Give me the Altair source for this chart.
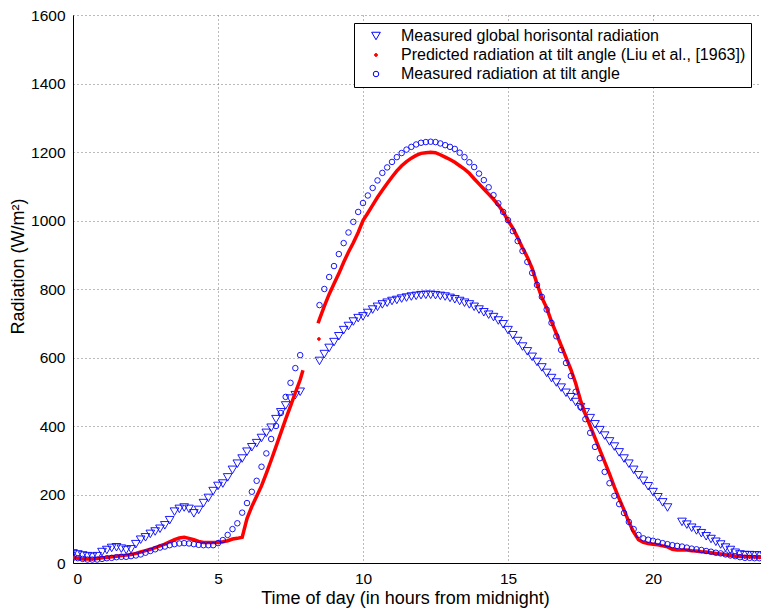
import altair as alt
import pandas as pd

G_LABEL = "Measured global horisontal radiation"
P_LABEL = "Predicted radiation at tilt angle (Liu et al., [1963])"
T_LABEL = "Measured radiation at tilt angle"
LEGEND_ORDER = [G_LABEL, P_LABEL, T_LABEL]
# scale order follows marker size; "_spare" is an unused slot that spaces the sizes
SCALE_ORDER = [P_LABEL, T_LABEL, "_spare", G_LABEL]

# 10-minute sampling grid (hours from midnight)
grid_hours = [k / 6 for k in range(144)]

# Measured global horizontal radiation (W/m2), one row per hour
glob_vals = [
    28, 25, 22, 20, 18, 20,
    32, 38, 44, 46, 42, 38,
    40, 55, 68, 75, 85, 92,
    100, 110, 125, 150, 158, 162,
    158, 145, 155, 175, 190, 210,
    225, 232, 250, 272, 290, 305,
    325, 338, 350, 365, 380, 395,
    420, 440, 460, 480, 490, 500,
    None, None, None, 590, 610, 628,
    645, 662, 680, 692, 705, 715,
    720, 730, 740, 748, 755, 760,
    765, 768, 772, 775, 778, 780,
    782, 783, 783, 782, 780, 778,
    774, 770, 765, 760, 755, 748,
    740, 732, 725, 718, 708, 697,
    680, 665, 648, 632, 618, 602,
    587, 571, 555, 540, 527, 512,
    497, 484, 470, 455, 440, 423,
    405, 388, 372, 355, 340, 323,
    305, 290, 272, 256, 240, 224,
    207, 192, 177, 162, None, None,
    120, 112, 103, 95, 87, 78,
    70, 62, 54, 45, 38, 30,
    25, 23, 23, 22, 22, 22,
]

# Measured radiation at tilt angle (W/m2)
tilt_vals = [
    15, 14, 12, 10, 10, 10,
    12, 14, 15, 17, 18, 18,
    20, 22, 25, 30, 35, 40,
    45, 48, 52, 55, 57, 58,
    57, 55, 53, 52, 52, 52,
    58, 67, 82, 99, 116, 147,
    175, 208, 240, 281, 320, 362,
    400, 438, 485, 526, 569, 607,
    None, None, None, 753, 800, 835,
    867, 902, 934, 965, 996, 1025,
    1051, 1073, 1095, 1117, 1139, 1155,
    1171, 1185, 1197, 1207, 1215, 1222,
    1227, 1229, 1230, 1229, 1225, 1220,
    1215, 1209, 1198, 1185, 1170, 1156,
    1137, 1118, 1097, 1074, 1050, 1025,
    1001, 969, 940, 911, 879, 847,
    812, 777, 740, 701, 662, 622,
    584, 546, 500, 455, 420, 380,
    339, 306, 266, 233, 196, 172,
    146, 120, 99, 82, 72, 68,
    65, 62, 58, 55, 52, 50,
    48, 45, 42, 40, 38, 35,
    33, 30, 28, 25, 22, 20,
    17, 15, 15, 14, 14, 14,
]

# Predicted radiation at tilt angle: morning segment (0 .. 7.93 h)
pred1_hours = [k / 6 for k in range(48)] + [7.93]
pred1_vals = [
    15, 14, 12, 12, 12, 13,
    15, 16, 18, 20, 22, 23,
    25, 28, 32, 36, 40, 45,
    50, 55, 62, 68, 73, 75,
    72, 68, 63, 60, 60, 60,
    60, 62, 65, 70, 72, 75,
    130, 165, 195, 225, 262, 300,
    340, 380, 420, 458, 497, 535,
    563,
]
# lone predicted point in the gap
pred_lone_hour = [8.48]
pred_lone_val = [654]
# day segment (8.45 .. 23.83 h)
pred2_hours = [8.45] + [k / 6 for k in range(51, 144)]
pred2_vals = [
    700,
    712, 750, 785,
    815, 845, 878, 908, 935, 965,
    1000, 1022, 1045, 1068, 1088, 1108,
    1127, 1145, 1160, 1172, 1182, 1190,
    1196, 1198, 1199, 1198, 1192, 1185,
    1178, 1170, 1160, 1150, 1138, 1122,
    1107, 1092, 1077, 1062, 1045, 1025,
    1000, 978, 950, 920, 893, 860,
    815, 775, 745, 705, 670, 635,
    600, 565, 525, 475, 435, 400,
    365, 330, 295, 260, 222, 188,
    155, 120, 90, 68, 60, 57,
    55, 53, 50, 47, 40, 38,
    38, 38, 36, 35, 33, 32,
    30, 28, 26, 24, 22, 20,
    20, 19, 18, 18, 17, 17,
]

glob_df = pd.DataFrame({"hour": grid_hours, "value": glob_vals, "series": G_LABEL}).dropna()
tilt_df = pd.DataFrame({"hour": grid_hours, "value": tilt_vals, "series": T_LABEL}).dropna()
lone_df = pd.DataFrame({"hour": pred_lone_hour, "value": pred_lone_val, "series": P_LABEL})
pred_df = pd.concat([
    pd.DataFrame({"hour": pred1_hours, "value": pred1_vals, "seg": 1}),
    pd.DataFrame({"hour": pred2_hours, "value": pred2_vals, "seg": 2}),
])

FONT = "Liberation Sans"

x_enc = alt.X(
    "hour:Q",
    scale=alt.Scale(domain=[0, 23.724], nice=False, zero=False),
    axis=alt.Axis(
        values=[0, 5, 10, 15, 20],
        title="Time of day (in hours from midnight)",
        titleX=332, titleY=35, titleAlign="center", titleBaseline="middle",
    ),
)
y_enc = alt.Y(
    "value:Q",
    scale=alt.Scale(domain=[0, 1600], nice=False),
    axis=alt.Axis(
        values=[0, 200, 400, 600, 800, 1000, 1200, 1400, 1600],
        format="d",
        title="Radiation (W/m²)",
        titleX=-55, titleY=251, titleAngle=270,
        titleAlign="center", titleBaseline="middle",
    ),
)

legend = alt.Legend(
    orient="none", legendX=281, legendY=8, title=None,
    values=LEGEND_ORDER,
    fillColor="white", strokeColor="black", padding=5,
    labelFont=FONT, labelFontSize=16, labelColor="black", labelLimit=0,
    symbolOffset=9, labelOffset=17, rowPadding=3,
    symbolStrokeWidth=1,
)
shape_enc = alt.Shape("series:N", scale=alt.Scale(domain=SCALE_ORDER, range=["circle", "circle", "circle", "triangle-down"]), legend=legend)
stroke_enc = alt.Stroke("series:N", scale=alt.Scale(domain=SCALE_ORDER, range=["#ff0000", "#0000ff", "#0000ff", "#0000ff"]), legend=legend)
fill_enc = alt.Fill("series:N", scale=alt.Scale(domain=SCALE_ORDER, range=["#ff0000", "transparent", "transparent", "transparent"]), legend=legend)
size_enc = alt.Size("series:N", scale=alt.Scale(domain=SCALE_ORDER, range=[8, 75]), legend=legend)

point_mark = dict(filled=True, strokeWidth=0.9, opacity=1, clip=True)

glob_layer = alt.Chart(glob_df).mark_point(**point_mark).encode(
    x=x_enc, y=y_enc, shape=shape_enc, stroke=stroke_enc, fill=fill_enc, size=size_enc
)
pred_line = alt.Chart(pred_df).mark_line(color="#ff0000", strokeWidth=3.5, clip=True).encode(
    x="hour:Q", y="value:Q", detail="seg:N"
)
lone_layer = alt.Chart(lone_df).mark_point(**point_mark).encode(
    x="hour:Q", y="value:Q", shape=shape_enc, stroke=stroke_enc, fill=fill_enc, size=size_enc
)
tilt_layer = alt.Chart(tilt_df).mark_point(**point_mark).encode(
    x="hour:Q", y="value:Q", shape=shape_enc, stroke=stroke_enc, fill=fill_enc, size=size_enc
)

chart = alt.layer(glob_layer, pred_line, lone_layer, tilt_layer).properties(
    width=688, height=548,
    autosize=alt.AutoSizeParams(type="none"),
    padding={"left": 73, "top": 15, "right": 0, "bottom": 46},
    background="white",
).configure_view(stroke=None).configure_axis(
    labelFont=FONT, labelFontSize=15.5, labelColor="black",
    titleFont=FONT, titleFontSize=18, titleColor="black", titleFontWeight="normal",
    domainColor="black", domainWidth=1, ticks=False, labelPadding=8,
    grid=True, gridColor="#777777", gridDash=[1, 3], gridWidth=1, gridOpacity=1,
)

chart.save("out.html", embed_options={"renderer": "svg", "actions": False})
